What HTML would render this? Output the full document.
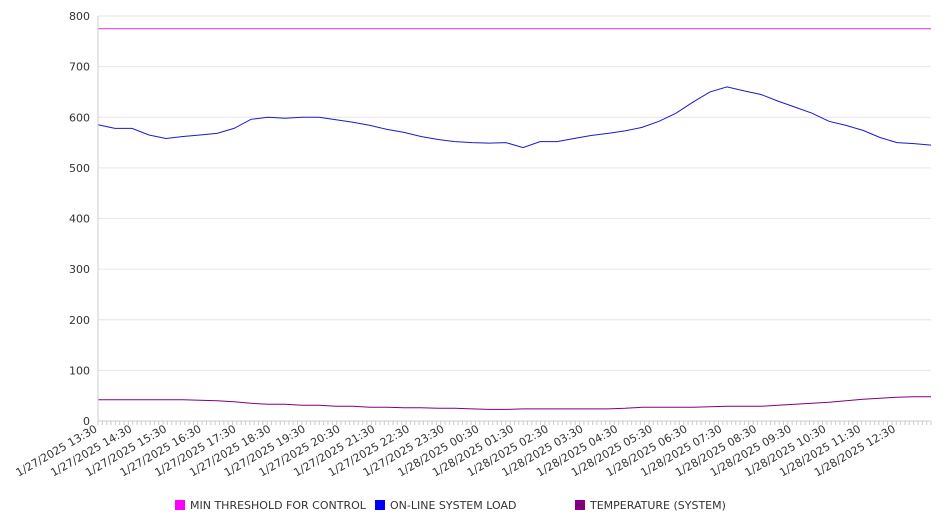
<!DOCTYPE html>
<html><head><meta charset="utf-8"><style>
html,body{margin:0;padding:0;background:#fff;}
svg text{font-family:"DejaVu Sans","Liberation Sans",sans-serif;fill:#333;}
</style></head><body>
<svg id="chart" width="946" height="526" xmlns="http://www.w3.org/2000/svg">
<g id="grid"></g>
<g id="series"></g>
<g id="axes"></g>
<g id="legend"></g>
</svg>
<script>
const xLabels=["1/27/2025 13:30","1/27/2025 14:30","1/27/2025 15:30","1/27/2025 16:30","1/27/2025 17:30","1/27/2025 18:30","1/27/2025 19:30","1/27/2025 20:30","1/27/2025 21:30","1/27/2025 22:30","1/27/2025 23:30","1/28/2025 00:30","1/28/2025 01:30","1/28/2025 02:30","1/28/2025 03:30","1/28/2025 04:30","1/28/2025 05:30","1/28/2025 06:30","1/28/2025 07:30","1/28/2025 08:30","1/28/2025 09:30","1/28/2025 10:30","1/28/2025 11:30","1/28/2025 12:30"];
const yTicks=[0,100,200,300,400,500,600,700,800];
// half-hour samples from 13:30 to 13:30 next day
const loadValues=[585,578,578,565,558,562,565,568,578,596,600,598,600,600,595,590,584,576,570,562,556,552,550,549,550,540,552,552,558,564,568,573,580,592,608,630,650,660,652,645,632,620,608,592,584,574,560,550,548,545];
const tempValues=[42,42,42,42,42,42,41,40,38,35,33,33,31,31,29,29,27,27,26,26,25,25,24,23,23,24,24,24,24,24,24,25,27,27,27,27,28,29,29,29,31,33,35,37,40,43,45,47,48,48];
const thresholdValues=[775,775];
const X0=98,X1=931,Y0=421,Y1=16,NS="http://www.w3.org/2000/svg";
const yS=v=>Y0-(v/800)*(Y0-Y1);
const xS=h=>X0+(h/24)*(X1-X0);
function mk(t,a,p){const e=document.createElementNS(NS,t);for(const k in a)e.setAttribute(k,a[k]);p.appendChild(e);return e;}
const grid=document.getElementById('grid'),axes=document.getElementById('axes'),ser=document.getElementById('series'),leg=document.getElementById('legend');
yTicks.forEach(v=>{
 const l=mk('line',{x1:X0,x2:X1,y1:yS(v),y2:yS(v),stroke:'#e6e6e6'},grid);
 
 const t=mk('text',{x:90,y:yS(v)+4,'text-anchor':'end','font-size':11},axes);t.textContent=v;
 
});
mk('line',{x1:X0,x2:X0,y1:Y1,y2:Y0,stroke:'#ccc'},axes);
mk('line',{x1:X0,x2:X1,y1:Y0,y2:Y0,stroke:'#ccc'},axes);
for(let i=0;i<=24*8;i++){mk('line',{x1:xS(i/8),x2:xS(i/8),y1:Y0,y2:Y0+4,stroke:'#ccc'},axes);}
xLabels.forEach((s,i)=>{
 const x=xS(i),y=Y0+10;
 const t=mk('text',{x:x,y:y,'text-anchor':'end','font-size':11,transform:`rotate(-30 ${x} ${y})`},axes);t.textContent=s;
 
});
function line(vals,color,name){
 const n=vals.length-1;
 const d=vals.map((v,i)=>(i?'L':'M')+xS(i*24/n).toFixed(1)+','+yS(v).toFixed(1)).join('');
 const p=mk('path',{d:d,fill:'none',stroke:color,'stroke-width':1},ser);
 
}
line(thresholdValues,'#cc33cc','threshold-line');
line(loadValues,'#1a1acc','load-line');
line(tempValues,'#800080','temperature-line');
const legendItems=[["MIN THRESHOLD FOR CONTROL","#ff00ff",175],["ON-LINE SYSTEM LOAD","#0000ff",375],["TEMPERATURE (SYSTEM)","#800080",575]];
legendItems.forEach(it=>{
 const g=mk('g',{},leg);
 
 mk('rect',{x:it[2],y:500,width:10,height:10,fill:it[1]},g);
 const t=mk('text',{x:it[2]+15,y:509,'font-size':11},g);t.textContent=it[0];
});
</script>
</body></html>
